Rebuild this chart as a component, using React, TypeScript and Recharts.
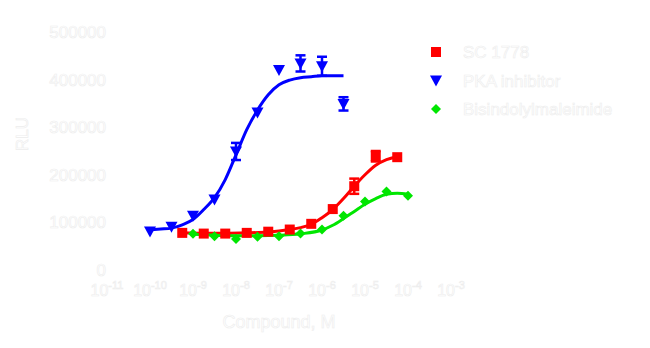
import React from "react";
import {
  ComposedChart,
  Line,
  Scatter,
  ErrorBar,
  XAxis,
  YAxis,
} from "recharts";

// log10 of concentration (M) and RLU readings
const blueLog = [-10, -9.5, -9, -8.5, -8, -7.5, -7, -6.5, -6, -5.5];
const blueRlu = [81000, 91000, 114000, 148000, 249000, 331000, 420000, 434000, 428000, 349000];
const blueErr = [0, 0, 0, 0, 18000, 0, 0, 17000, 20000, 14000];

const redLog = [-9.25, -8.75, -8.25, -7.75, -7.25, -6.75, -6.25, -5.75, -5.25, -4.75, -4.25];
const redRlu = [78000, 76500, 76500, 78000, 80500, 85000, 97000, 128000, 176000, 239000, 237000];
const redErr = [0, 0, 0, 0, 0, 0, 0, 0, 16000, 11000, 0];

const greenLog = [-9, -8.5, -8, -7.5, -7, -6.5, -6, -5.5, -5, -4.5, -4];
const greenRlu = [76000, 71000, 65000, 70000, 71000, 76500, 85000, 114000, 144000, 165000, 156000];

// fitted curves
const blueFitLog = [-10.05, -9.75, -9.5, -9.25, -9, -8.75, -8.5, -8.25, -8, -7.75, -7.5, -7.25, -7, -6.75, -6.5, -6.25, -6, -5.75, -5.5];
const blueFitRlu = [84000, 86000, 88000, 95000, 106000, 127000, 152000, 190000, 242000, 295000, 336000, 368000, 389000, 399000, 404000, 406000, 408000, 408000, 408000];

const redFitLog = [-9.25, -8.75, -8.25, -7.75, -7.25, -7, -6.75, -6.5, -6.25, -6, -5.75, -5.5, -5.25, -5, -4.75, -4.5, -4.25];
const redFitRlu = [78000, 77000, 77000, 78000, 80000, 82000, 85000, 89000, 96000, 110000, 127000, 150000, 176000, 200000, 220000, 232000, 238000];

const greenFitLog = [-9, -8.5, -8, -7.5, -7, -6.5, -6, -5.75, -5.5, -5.25, -5, -4.75, -4.5, -4.25, -4];
const greenFitRlu = [75000, 73000, 72000, 72000, 73000, 76000, 84000, 94000, 108000, 123000, 138000, 150000, 159000, 161000, 159000];

const xTicks = [-11, -10, -9, -8, -7, -6, -5, -4, -3];
const yTicks = [0, 100000, 200000, 300000, 400000, 500000];

const legendItems = [
  { name: "SC 1778", color: "#ff0000", shape: "square" },
  { name: "PKA inhibitor", color: "#0000ff", shape: "triangle" },
  { name: "Bisindolylmaleimide", color: "#00e600", shape: "diamond" },
];

const toRows = (xs: number[], ys: number[], errs?: number[]) =>
  xs.map((x, i) => ({
    x,
    y: ys[i],
    err: errs && errs[i] ? errs[i] : null,
  }));

const ghost = {
  fill: "#ffffff",
  stroke: "#ededed",
  strokeWidth: 0.6,
  fontFamily: "'Liberation Sans', Arial, sans-serif",
};

function Square({ cx, cy, fill }: any) {
  return <rect x={cx - 5} y={cy - 5} width={10} height={10} fill={fill} />;
}

function TriangleDown({ cx, cy, fill }: any) {
  return (
    <polygon
      points={`${cx - 6},${cy - 5} ${cx + 6},${cy - 5} ${cx},${cy + 6}`}
      fill={fill}
    />
  );
}

function Diamond({ cx, cy, fill }: any) {
  return (
    <polygon
      points={`${cx},${cy - 5} ${cx + 5},${cy} ${cx},${cy + 5} ${cx - 5},${cy}`}
      fill={fill}
    />
  );
}

function XTick({ x, y, payload }: any) {
  return (
    <text x={x} y={y + 26} textAnchor="middle" fontSize={16} {...ghost}>
      <tspan>10</tspan>
      <tspan dy={-7} fontSize={11}>{payload.value}</tspan>
    </text>
  );
}

function YTick({ x, y, payload }: any) {
  return (
    <text x={x - 1} y={y} dy="0.35em" textAnchor="end" fontSize={17} {...ghost}>
      {payload.value}
    </text>
  );
}

function LegendBox() {
  return (
    <svg
      width={230}
      height={100}
      style={{ position: "absolute", left: 420, top: 30 }}
    >
      {legendItems.map((item, i) => {
        const cy = 22 + i * 28.5;
        const cx = 16;
        return (
          <g key={item.name}>
            {item.shape === "square" && <Square cx={cx} cy={cy} fill={item.color} />}
            {item.shape === "triangle" && <TriangleDown cx={cx} cy={cy} fill={item.color} />}
            {item.shape === "diamond" && <Diamond cx={cx} cy={cy} fill={item.color} />}
            <text x={43} y={cy} dy="0.36em" fontSize={17} {...ghost}>
              {item.name}
            </text>
          </g>
        );
      })}
    </svg>
  );
}

export default function App() {
  return (
    <div
      style={{
        position: "absolute",
        left: 0,
        top: 0,
        width: 650,
        height: 348,
        background: "#ffffff",
      }}
    >
      <ComposedChart
        width={650}
        height={348}
        margin={{ top: 32, right: 199, bottom: 0, left: 0 }}
      >
        <XAxis
          type="number"
          dataKey="x"
          domain={[-11, -3]}
          ticks={xTicks}
          allowDataOverflow
          axisLine={false}
          tickLine={false}
          tickSize={0}
          tickMargin={0}
          height={78}
          tick={<XTick />}
          label={{
            value: "Compound, M",
            position: "insideBottom",
            offset: 20,
            fontSize: 18,
            ...ghost,
          }}
        />
        <YAxis
          type="number"
          dataKey="y"
          domain={[0, 500000]}
          ticks={yTicks}
          axisLine={false}
          tickLine={false}
          tickSize={0}
          tickMargin={0}
          width={107}
          tick={<YTick />}
          label={{
            value: "RLU",
            angle: -90,
            position: "insideLeft",
            offset: 22,
            fontSize: 17,
            ...ghost,
          }}
        />
        <Line
          data={toRows(blueFitLog, blueFitRlu)}
          dataKey="y"
          type="monotone"
          stroke="#0000ff"
          strokeWidth={3}
          dot={false}
          isAnimationActive={false}
        />
        <Line
          data={toRows(redFitLog, redFitRlu)}
          dataKey="y"
          type="monotone"
          stroke="#ff0000"
          strokeWidth={3}
          dot={false}
          isAnimationActive={false}
        />
        <Line
          data={toRows(greenFitLog, greenFitRlu)}
          dataKey="y"
          type="monotone"
          stroke="#00e600"
          strokeWidth={3}
          dot={false}
          isAnimationActive={false}
        />
        <Scatter
          data={toRows(blueLog, blueRlu, blueErr)}
          dataKey="y"
          fill="#0000ff"
          shape={<TriangleDown />}
          isAnimationActive={false}
        >
          <ErrorBar dataKey="err" direction="y" width={5} stroke="#0000ff" strokeWidth={2.5} />
        </Scatter>
        <Scatter
          data={toRows(redLog, redRlu, redErr)}
          dataKey="y"
          fill="#ff0000"
          shape={<Square />}
          isAnimationActive={false}
        >
          <ErrorBar dataKey="err" direction="y" width={5} stroke="#ff0000" strokeWidth={2.5} />
        </Scatter>
        <Scatter
          data={toRows(greenLog, greenRlu)}
          dataKey="y"
          fill="#00e600"
          shape={<Diamond />}
          isAnimationActive={false}
        />
      </ComposedChart>
      <LegendBox />
    </div>
  );
}
